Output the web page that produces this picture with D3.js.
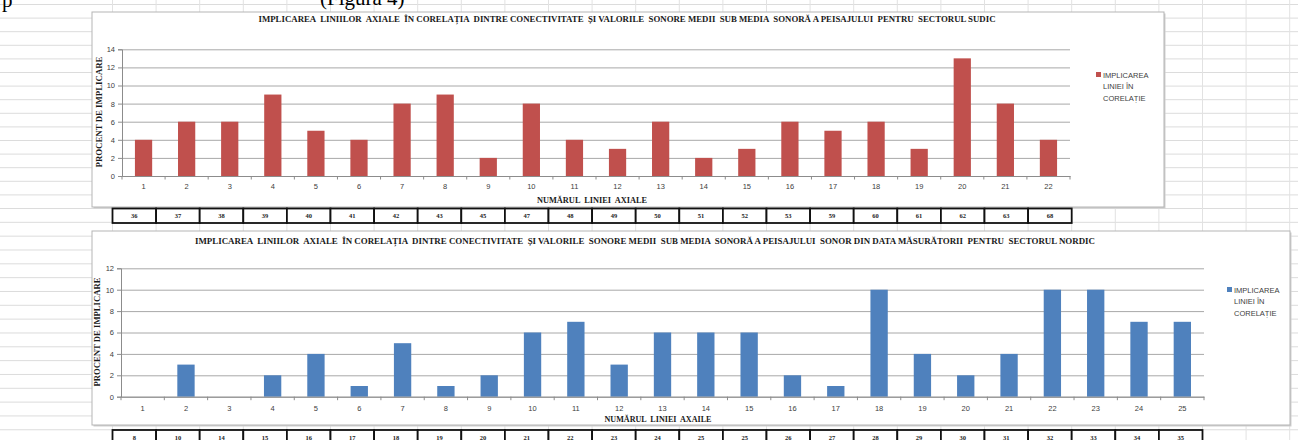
<!DOCTYPE html>
<html><head><meta charset="utf-8">
<script src="https://cdn.jsdelivr.net/npm/d3@7"></script>
<style>body{margin:0;background:#fff;} svg{display:block;} text{white-space:pre;}</style>
</head><body><svg id="c" width="1298" height="440"></svg>
<script>
// ---------- data ----------
const southCategories = ["1","2","3","4","5","6","7","8","9","10","11","12","13","14","15","16","17","18","19","20","21","22"];
const southValues = [4,6,6,9,5,4,8,9,2,8,4,3,6,2,3,6,5,6,3,13,8,4];
const southLineIds = ["36","37","38","39","40","41","42","43","45","47","48","49","50","51","52","53","59","60","61","62","63","68"];
const southTicks = [0,2,4,6,8,10,12,14];

const northCategories = ["1","2","3","4","5","6","7","8","9","10","11","12","13","14","15","16","17","18","19","20","21","22","23","24","25"];
const northValues = [0,3,0,2,4,1,5,1,2,6,7,3,6,6,6,2,1,10,4,2,4,10,10,7,7];
const northLineIds = ["8","10","14","15","16","17","18","19","20","21","22","23","24","25","25","26","27","28","29","30","31","32","33","34","35"];
const northTicks = [0,2,4,6,8,10,12];

const southTitle = "IMPLICAREA  LINIILOR  AXIALE  ÎN CORELAȚIA  DINTRE CONECTIVITATE  ȘI VALORILE  SONORE MEDII  SUB MEDIA  SONORĂ A PEISAJULUI  PENTRU  SECTORUL SUDIC";
const northTitle = "IMPLICAREA  LINIILOR  AXIALE  ÎN CORELAȚIA  DINTRE CONECTIVITATE  ȘI VALORILE  SONORE MEDII  SUB MEDIA  SONORĂ A PEISAJULUI  SONOR DIN DATA MĂSURĂTORII  PENTRU  SECTORUL NORDIC";
const yTitle = "PROCENT DE IMPLICARE";
const southXTitle = "NUMĂRUL  LINIEI  AXIALE";
const northXTitle = "NUMĂRUL  LINIEI  AXAILE";
const legendLines = ["IMPLICAREA","LINIEI ÎN","CORELAȚIE"];

// ---------- drawing ----------
const svg = d3.select("#c");
const serif = "'Liberation Serif','Times New Roman',serif";
const sans = "'Liberation Sans',Arial,sans-serif";

// spreadsheet background grid
const bg = svg.append("g");
const rowsTop = d3.range(0, 16).map(i => 208.5 - i * 13.6);
const rowsBot = d3.range(1, 17).map(i => 208.5 + i * 13.83);
rowsTop.concat(rowsBot).forEach(y => {
  bg.append("line").attr("x1", 0).attr("x2", 1298).attr("y1", y).attr("y2", y)
    .attr("stroke", "#dcdcdc").attr("stroke-width", 1);
});
d3.range(0, 28).map(k => 112.5 + 43.6 * k).forEach(x => {
  bg.append("line").attr("x1", x).attr("x2", x).attr("y1", 0).attr("y2", 440)
    .attr("stroke", "#e2e2e2").attr("stroke-width", 1);
});
// clipped document text above
bg.append("text").attr("x", 2).attr("y", 7).attr("font-family", serif).attr("font-size", 21).attr("fill", "#000").text("p");
bg.append("text").attr("x", 320).attr("y", 5).attr("font-family", serif).attr("font-size", 21).attr("fill", "#000").text("(Figura 4)");

function drawChart(c) {
  const g = svg.append("g");
  // box with shadow
  g.append("rect").attr("x", c.box.x + 1.5).attr("y", c.box.y + 1.5).attr("width", c.box.w).attr("height", c.box.h)
    .attr("fill", "#cfcfcf");
  g.append("rect").attr("x", c.box.x).attr("y", c.box.y).attr("width", c.box.w).attr("height", c.box.h)
    .attr("fill", "#fff").attr("stroke", "#b5b5b5").attr("stroke-width", 1);

  const x = d3.scaleBand().domain(c.categories).range([c.plot.x0, c.plot.x1]).paddingInner(0.6).paddingOuter(0.3);
  const y = d3.scaleLinear().domain([0, c.max]).range([c.plot.yBot, c.plot.yTop]);

  // gridlines
  const grid = g.append("g").attr("transform", `translate(${c.plot.x0},0)`)
    .call(d3.axisLeft(y).tickValues(c.ticks).tickSize(-(c.plot.x1 - c.plot.x0)).tickFormat(""));
  grid.select(".domain").remove();
  grid.selectAll("line").attr("stroke", "#a8a8a8").attr("stroke-width", 1);

  // y axis
  const ya = g.append("g").attr("transform", `translate(${c.plot.x0},0)`)
    .call(d3.axisLeft(y).tickValues(c.ticks).tickSize(4).tickPadding(3));
  ya.select(".domain").attr("stroke", "#8c8c8c");
  ya.selectAll("line").attr("stroke", "#8c8c8c");
  ya.selectAll("text").attr("font-family", sans).attr("font-size", 7.5).attr("fill", "#404040");

  // bars
  g.selectAll("rect.bar").data(c.values).join("rect").attr("class", "bar")
    .attr("x", (d, i) => x(c.categories[i]))
    .attr("width", x.bandwidth())
    .attr("y", d => y(d))
    .attr("height", d => y(0) - y(d))
    .attr("fill", c.color);

  // x axis
  const xa = g.append("g").attr("transform", `translate(0,${c.plot.yBot})`)
    .call(d3.axisBottom(x).tickSize(0).tickPadding(c.tickPad));
  xa.select(".domain").attr("stroke", "#8c8c8c");
  xa.selectAll("text").attr("font-family", sans).attr("font-size", 7.5).attr("fill", "#404040");
  // boundary tick marks
  const step = x.step();
  g.selectAll("line.bt").data(d3.range(0, c.categories.length + 1)).join("line").attr("class", "bt")
    .attr("x1", i => c.plot.x0 + i * step).attr("x2", i => c.plot.x0 + i * step)
    .attr("y1", c.plot.yBot).attr("y2", c.plot.yBot + 3.5)
    .attr("stroke", "#8c8c8c");

  // title
  g.append("text").attr("x", c.title.x).attr("y", c.title.y).attr("text-anchor", "middle")
    .attr("font-family", serif).attr("font-weight", "bold").attr("font-size", 8.5).attr("fill", "#1a1a1a")
    .attr("textLength", c.title.len).attr("lengthAdjust", "spacingAndGlyphs").text(c.title.text);
  // y title
  g.append("text").attr("transform", `translate(${c.ytitle.x},${c.ytitle.y}) rotate(-90)`).attr("text-anchor", "middle")
    .attr("font-family", serif).attr("font-weight", "bold").attr("font-size", 9).attr("fill", "#1a1a1a")
    .attr("textLength", c.ytitle.len).attr("lengthAdjust", "spacingAndGlyphs").text(yTitle);
  // x title
  g.append("text").attr("x", c.xtitle.x).attr("y", c.xtitle.y).attr("text-anchor", "middle")
    .attr("font-family", serif).attr("font-weight", "bold").attr("font-size", 8.5).attr("fill", "#1a1a1a")
    .attr("textLength", c.xtitle.len).attr("lengthAdjust", "spacingAndGlyphs").text(c.xtitle.text);

  // legend
  g.append("rect").attr("x", c.legend.x).attr("y", c.legend.y - 2.5).attr("width", 5).attr("height", 5).attr("fill", c.color);
  legendLines.forEach((t, i) => {
    g.append("text").attr("x", c.legend.x + 7).attr("y", c.legend.y + 3 + i * 11.7)
      .attr("font-family", sans).attr("font-size", 7.5).attr("fill", "#404040").text(t);
  });

  // line-id table under the chart
  const tx = d3.scaleBand().domain(c.categories).range([c.table.x0, c.table.x0 + c.table.cw * c.categories.length]);
  const tg = svg.append("g");
  tg.selectAll("rect").data(c.categories).join("rect")
    .attr("x", d => tx(d)).attr("y", c.table.y).attr("width", tx.bandwidth()).attr("height", c.table.h)
    .attr("fill", "#fff").attr("stroke", "#111").attr("stroke-width", 1.8);
  tg.selectAll("text").data(c.ids).join("text")
    .attr("x", (d, i) => tx(c.categories[i]) + tx.bandwidth() / 2)
    .attr("y", c.table.y + c.table.h / 2 + 2.2).attr("text-anchor", "middle")
    .attr("font-family", serif).attr("font-weight", "bold").attr("font-size", 6.5).attr("fill", "#222")
    .text(d => d);
}

drawChart({
  box: {x: 92, y: 12, w: 1072, h: 195},
  plot: {x0: 122, x1: 1070, yTop: 49.3, yBot: 176},
  categories: southCategories, values: southValues, ids: southLineIds, ticks: southTicks, max: 14,
  color: "#C0504D", tickPad: 8,
  title: {x: 627, y: 22, len: 737, text: southTitle},
  ytitle: {x: 102, y: 112, len: 111},
  xtitle: {x: 592, y: 202.5, len: 110, text: southXTitle},
  legend: {x: 1096, y: 74.5},
  table: {x0: 112.5, cw: 43.6, y: 208.5, h: 14.5}
});

drawChart({
  box: {x: 92, y: 231, w: 1198, h: 194},
  plot: {x0: 121, x1: 1204, yTop: 268.3, yBot: 396.7},
  categories: northCategories, values: northValues, ids: northLineIds, ticks: northTicks, max: 12,
  color: "#4F81BD", tickPad: 9,
  title: {x: 645, y: 244, len: 900, text: northTitle},
  ytitle: {x: 100, y: 332, len: 109},
  xtitle: {x: 658, y: 421.5, len: 107, text: northXTitle},
  legend: {x: 1227, y: 289.5},
  table: {x0: 112.5, cw: 43.6, y: 430, h: 15}
});
</script></body></html>
